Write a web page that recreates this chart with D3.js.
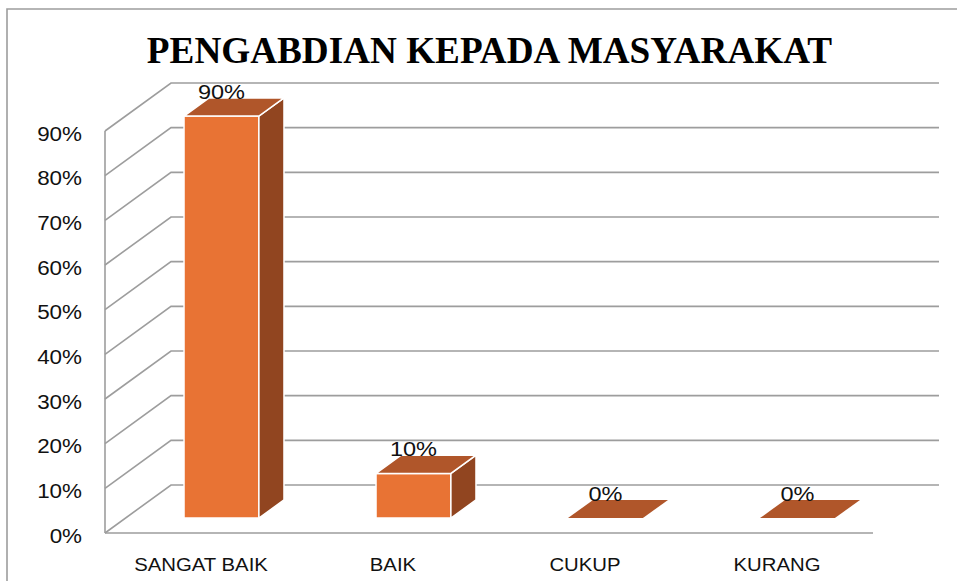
<!DOCTYPE html>
<html>
<head>
<meta charset="utf-8">
<script src="https://cdn.jsdelivr.net/npm/d3@7"></script>
<style>
  html, body { margin: 0; padding: 0; background: #fff; }
  svg { display: block; }
</style>
</head>
<body>
<div id="chart"></div>
<script>
  const categories = ['SANGAT BAIK', 'BAIK', 'CUKUP', 'KURANG'];
  const values = [0.9, 0.1, 0, 0];
  const tickValues = [0, 0.1, 0.2, 0.3, 0.4, 0.5, 0.6, 0.7, 0.8, 0.9];
  const title = 'PENGABDIAN KEPADA MASYARAKAT';

  const W = 957, H = 581;
  const floorY = 533;          // front 0% line
  const DX = 66, DY = 48;      // depth offset of back wall
  const d0 = 0.31, d1 = 0.69;  // bar depth range
  const gridColor = '#9d9d9d';
  const colFront = '#e87334', colTop = '#b0562a', colSide = '#914520';

  const svg = d3.select('#chart').append('svg').attr('width', W).attr('height', H);

  // outer frame (only top and left show)
  svg.append('path').attr('d', `M7,${H} L7,9 L${W},9`)
    .attr('fill', 'none').attr('stroke', gridColor).attr('stroke-width', 1.6);

  const x = d3.scaleBand().domain(categories).range([105, 873]);
  const y = d3.scaleLinear().domain([0, 0.9]).range([0, 402]);

  // project (front x, value, depth) to screen
  const px = (xf, d) => xf + d * DX;
  const py = (v, d) => floorY - d * DY - y(v);

  const grid = svg.append('g').attr('fill', 'none').attr('stroke', gridColor).attr('stroke-width', 1.6);
  // left wall front edge
  grid.append('line').attr('x1', 105).attr('x2', 105).attr('y1', py(0, 0)).attr('y2', py(0.9, 0));
  // floor front edge
  grid.append('line').attr('x1', 105).attr('x2', 873).attr('y1', py(0, 0)).attr('y2', py(0, 0));
  tickValues.forEach(v => {
    grid.append('path')
      .attr('d', `M${px(105, 0)},${py(v, 0)} L${px(105, 1)},${py(v, 1)} L${px(873, 1)},${py(v, 1)}`);
  });

  const fmt = d3.format('.0%');

  function widen(sel, k) {
    sel.each(function() {
      const len = this.getComputedTextLength();
      d3.select(this).attr('textLength', len * k).attr('lengthAdjust', 'spacingAndGlyphs');
    });
  }

  // y tick labels
  const ticks = svg.append('g').selectAll('text').data(tickValues).join('text')
    .attr('x', 82).attr('y', d => py(d, 0) + 9.7)
    .attr('text-anchor', 'end')
    .attr('font-family', 'Liberation Sans, Arial, sans-serif')
    .attr('font-size', 20).attr('fill', '#111')
    .text(d => fmt(d));
  widen(ticks, 1.12);

  // bars
  const bars = svg.append('g').selectAll('g').data(categories).join('g');
  bars.each(function(c, i) {
    const g = d3.select(this);
    const v = values[i];
    const xc = x(c) + x.bandwidth() / 2;
    const bw = x.bandwidth() * 0.39;
    const xl = xc - bw / 2, xr = xc + bw / 2;
    const pt = (xf, val, d) => `${px(xf, d)},${py(val, d)}`;
    if (v > 0) {
      g.append('polygon')
        .attr('points', [pt(xl, 0, d0), pt(xr, 0, d0), pt(xr, v, d0), pt(xl, v, d0)].join(' '))
        .attr('fill', colFront).attr('stroke', '#fff').attr('stroke-width', 1.5);
      g.append('polygon')
        .attr('points', [pt(xr, 0, d0), pt(xr, 0, d1), pt(xr, v, d1), pt(xr, v, d0)].join(' '))
        .attr('fill', colSide).attr('stroke', '#fff').attr('stroke-width', 1.5);
      g.append('polygon')
        .attr('points', [pt(xl, v, d0), pt(xr, v, d0), pt(xr, v, d1), pt(xl, v, d1)].join(' '))
        .attr('fill', colTop).attr('stroke', '#fff').attr('stroke-width', 1.5);
    } else {
      g.append('polygon')
        .attr('points', [pt(xl, 0, d0), pt(xr, 0, d0), pt(xr, 0, d1), pt(xl, 0, d1)].join(' '))
        .attr('fill', colTop);
    }
    const lbl = g.append('text')
      .attr('x', px(xc, d0)).attr('y', py(v, d1) + 1)
      .attr('text-anchor', 'middle')
      .attr('font-family', 'Liberation Sans, Arial, sans-serif')
      .attr('font-size', 21).attr('fill', '#111')
      .text(fmt(v));
    widen(lbl, 1.12);
  });

  // category labels
  const cats = svg.append('g').selectAll('text').data(categories).join('text')
    .attr('x', d => x(d) + x.bandwidth() / 2).attr('y', 571)
    .attr('text-anchor', 'middle')
    .attr('font-family', 'Liberation Sans, Arial, sans-serif')
    .attr('font-size', 19).attr('fill', '#111')
    .text(d => d);
  widen(cats, 1.07);

  // title
  svg.append('text')
    .attr('x', 489.5).attr('y', 63)
    .attr('text-anchor', 'middle')
    .attr('font-family', 'Liberation Serif, Times New Roman, serif')
    .attr('font-weight', 'bold').attr('font-size', 37.2).attr('fill', '#000')
    .text(title);
</script>
</body>
</html>
